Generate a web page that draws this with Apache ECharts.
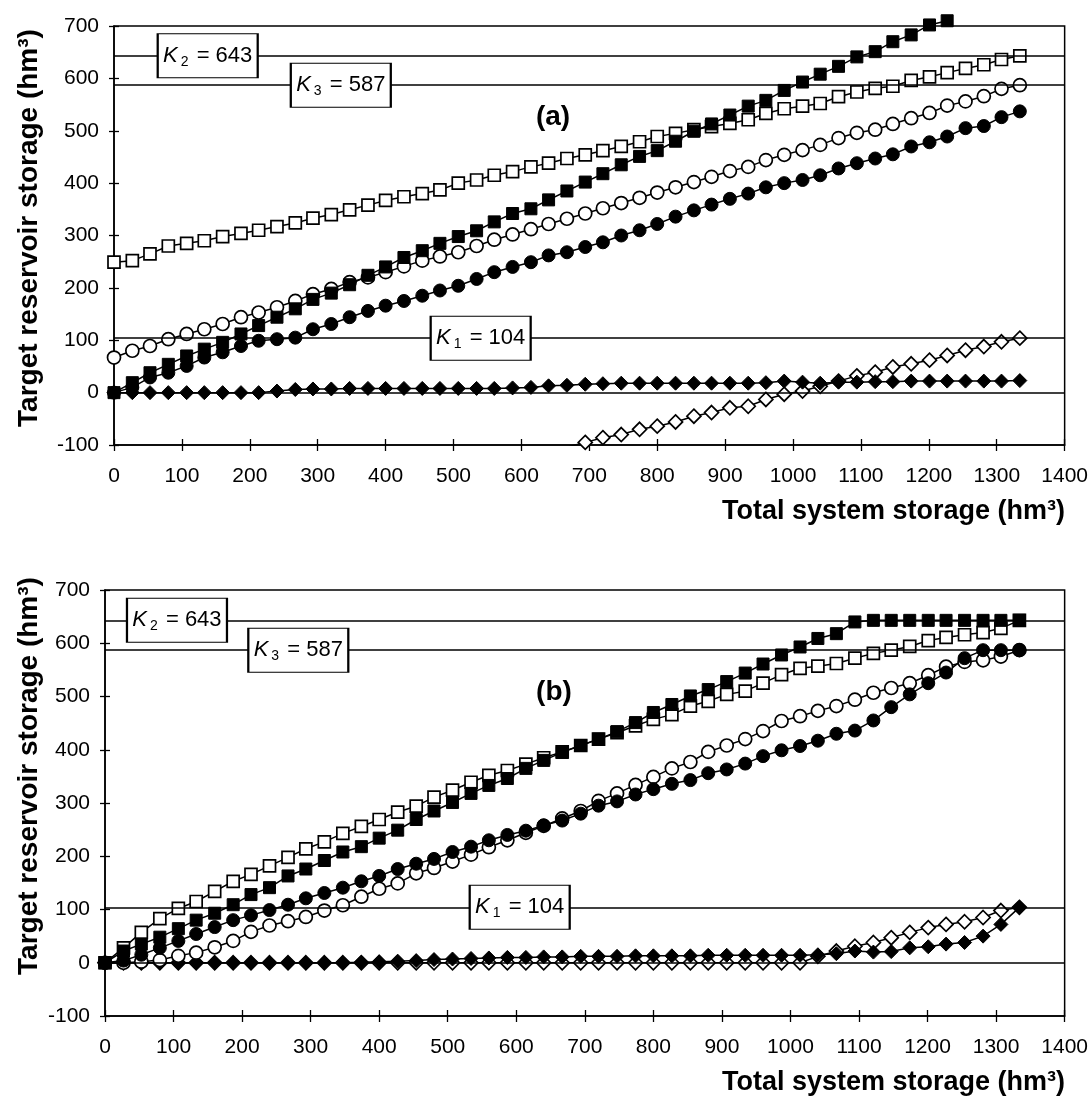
<!DOCTYPE html>
<html><head><meta charset="utf-8">
<script src="https://cdn.jsdelivr.net/npm/echarts/dist/echarts.min.js"></script>
<style>html,body{margin:0;padding:0;background:#fff}#c{width:1091px;height:1103px}</style>
</head><body><div id="c"></div>
<script>
// ---------- DATA ----------
const storageX = [0, 27, 53, 80, 107, 133, 160, 187, 213, 240, 267, 293, 320, 347, 374, 400, 427, 454, 480, 507, 534, 560, 587, 614, 640, 667, 694, 720, 747, 774, 800, 827, 854, 880, 907, 934, 960, 987, 1014, 1040, 1067, 1094, 1121, 1147, 1174, 1201, 1227, 1254, 1281, 1307, 1334];
const K1 = 104, K2 = 643, K3 = 587;

// Panel (a)
const aFilledSquare = [0, 19, 38, 54, 70, 83, 96, 112, 128, 144, 160, 178, 190, 206, 224, 240, 258, 271, 285, 298, 309, 326, 342, 351, 368, 385, 402, 418, 435, 451, 462, 480, 499, 513, 530, 547, 558, 577, 593, 608, 623, 641, 651, 670, 683, 702, 710];
const aOpenSquare = [249, 252, 265, 280, 285, 290, 298, 304, 310, 317, 324, 333, 340, 349, 358, 367, 374, 380, 387, 400, 406, 415, 422, 431, 438, 447, 454, 462, 470, 479, 489, 495, 502, 508, 514, 521, 533, 542, 547, 552, 565, 574, 581, 585, 596, 603, 611, 619, 626, 636, 643];
const aOpenCircle = [67, 80, 89, 102, 112, 121, 131, 144, 153, 163, 175, 188, 198, 211, 220, 230, 241, 252, 260, 268, 280, 292, 302, 312, 322, 332, 342, 352, 362, 372, 382, 392, 402, 412, 423, 431, 444, 454, 463, 473, 486, 496, 502, 513, 524, 534, 548, 556, 566, 580, 587];
const aFilledCircle = [0, 10, 29, 38, 51, 67, 77, 89, 99, 102, 105, 121, 131, 144, 156, 166, 175, 185, 195, 204, 217, 230, 240, 249, 262, 268, 278, 287, 300, 310, 322, 336, 348, 359, 370, 380, 392, 400, 406, 415, 428, 438, 447, 455, 470, 478, 489, 505, 509, 526, 537];
const aFilledDiamond = [0, 0, 0, 0, 0, 0, 0, 0, 0, 3, 6, 7, 7, 8, 8, 8, 8, 8, 8, 8, 8, 8, 9, 10, 13, 14, 16, 17, 18, 18, 18, 18, 18, 18, 18, 18, 19, 22, 20, 18, 20, 20, 21, 21, 22, 22, 22, 22, 22, 22, 23];
const aOpenDiamondStart = 23;
const aOpenDiamond = [-121, -112, -104, -95, -86, -80, -70, -64, -56, -45, -38, -29, -26, -13, -3, 3, 12, 22, 32, 39, 49, 55, 62, 71, 81, 88, 97, 104];

// Panel (b)
const bFilledSquare = [0, 22, 35, 48, 64, 80, 93, 109, 128, 141, 163, 176, 192, 208, 218, 234, 249, 269, 285, 301, 318, 333, 346, 365, 380, 395, 408, 420, 434, 451, 470, 485, 501, 513, 528, 544, 561, 578, 593, 609, 618, 640, 643, 643, 643, 643, 643, 643, 643, 643, 643];
const bOpenSquare = [0, 28, 57, 83, 102, 115, 134, 153, 166, 182, 198, 214, 227, 243, 256, 269, 283, 294, 311, 324, 339, 352, 361, 373, 385, 396, 408, 420, 432, 445, 457, 466, 482, 491, 504, 510, 525, 541, 553, 557, 562, 572, 581, 587, 594, 605, 611, 616, 620, 628, 643];
const bOpenCircle = [0, 0, 2, 5, 13, 19, 29, 41, 58, 70, 78, 86, 98, 108, 124, 139, 149, 168, 178, 190, 203, 217, 230, 244, 257, 271, 285, 304, 318, 334, 349, 365, 377, 396, 408, 420, 435, 454, 463, 473, 482, 494, 507, 516, 525, 540, 556, 565, 568, 575, 587];
const bFilledCircle = [0, 4, 15, 28, 41, 54, 67, 80, 89, 99, 109, 121, 131, 141, 153, 163, 176, 186, 195, 208, 218, 230, 240, 248, 258, 267, 280, 295, 303, 316, 326, 336, 343, 356, 363, 374, 388, 399, 407, 417, 430, 436, 455, 480, 504, 525, 545, 572, 587, 587, 587];
const bFilledDiamond = [0, 0, 0, 0, 0, 0, 0, 0, 0, 0, 0, 0, 0, 0, 1, 2, 3, 4, 6, 7, 8, 9, 10, 10, 11, 11, 12, 12, 12, 13, 13, 13, 13, 14, 14, 14, 14, 14, 14, 15, 17, 22, 20, 21, 28, 30, 35, 38, 50, 72, 104];
const bOpenDiamond = [0, 0, 0, 0, 0, 0, 0, 0, 0, 0, 0, 0, 0, 0, 0, 0, 0, 0, 0, 0, 0, 0, 0, 0, 0, 0, 0, 0, 0, 0, 0, 0, 0, 0, 0, 0, 0, 0, 0, 12, 22, 31, 38, 47, 57, 66, 72, 77, 85, 98, 104];

// ---------- LAYOUT / STYLE ----------
const FONT = '"Liberation Sans", Arial, Helvetica, sans-serif';
const GRIDS = [
  {left: 114, top: 26, width: 955, height: 419},
  {left: 105, top: 590, width: 963, height: 426}
];
const KLABEL_X = [[540, 138, 334], [605, 105, 282]]; // x-position (data units) of K1,K2,K3 boxes

function pts(ys, start) { return ys.map((v, i) => [storageX[i + start], v]); }

function mk(gi, ys, start, symbol, size, filled, extra) {
  return Object.assign({
    type: 'line', xAxisIndex: gi, yAxisIndex: gi,
    data: pts(ys, start),
    symbol: symbol, symbolSize: size, showSymbol: true, showAllSymbol: true,
    lineStyle: {color: '#000', width: 1.5},
    itemStyle: filled ? {color: '#000', borderColor: '#000', borderWidth: 1}
                      : {color: '#fff', borderColor: '#000', borderWidth: 1.7},
    emphasis: {disabled: true},
    animation: false, silent: true, clip: true, z: 3
  }, extra || {});
}

function refLines(gi) {
  return {
    type: 'line', xAxisIndex: gi, yAxisIndex: gi, data: [], silent: true, z: 1, animation: false,
    markLine: {
      silent: true, animation: false, symbol: ['none', 'none'], label: {show: false},
      lineStyle: {color: '#000', width: 1.6, type: 'solid'},
      emphasis: {disabled: true},
      data: [{yAxis: 0}, {yAxis: K1}, {yAxis: K2}, {yAxis: K3}]
    }
  };
}

function kBoxes(gi) {
  const lx = KLABEL_X[gi];
  return {
    type: 'line', xAxisIndex: gi, yAxisIndex: gi, data: [], silent: true, z: 20, animation: false,
    markPoint: {
      silent: true, animation: false, symbol: 'rect', symbolSize: [100, 44],
      itemStyle: {color: '#fff', borderColor: '#000', borderWidth: 1.5},
      emphasis: {disabled: true},
      label: {
        show: true, position: 'inside', color: '#000',
        formatter: p => '{k|K}{s|' + p.name + '}{t| = ' + p.value + '}',
        rich: {
          k: {fontFamily: FONT, fontSize: 22, fontStyle: 'italic', color: '#000'},
          s: {fontFamily: FONT, fontSize: 14, color: '#000', padding: [12, 2, 0, 3]},
          t: {fontFamily: FONT, fontSize: 22, color: '#000'}
        }
      },
      data: [
        {name: '1', coord: [lx[0], K1], value: K1},
        {name: '2', coord: [lx[1], K2], value: K2},
        {name: '3', coord: [lx[2], K3], value: K3}
      ]
    }
  };
}

const plainNum = v => String(v);

function xAx(gi, inner) {
  return {
    type: 'value', gridIndex: gi, min: 0, max: 1400, interval: 100, position: 'bottom',
    axisLine: {show: !inner, onZero: false, lineStyle: {color: '#000', width: 1.5}},
    axisTick: {show: true, inside: inner, length: 6, lineStyle: {color: '#000', width: 1.3}},
    axisLabel: {show: !inner, margin: 21, fontSize: 21, fontFamily: FONT, color: '#000', formatter: plainNum, showMaxLabel: true, showMinLabel: true},
    splitLine: {show: false}
  };
}
function yAx(gi, inner) {
  return {
    type: 'value', gridIndex: gi, min: -100, max: 700, interval: 100, position: 'left',
    axisLine: {show: !inner, onZero: false, lineStyle: {color: '#000', width: 1.5}},
    axisTick: {show: true, inside: inner, length: 5, lineStyle: {color: '#000', width: 1.3}},
    axisLabel: {show: !inner, margin: 15, fontSize: 21, fontFamily: FONT, color: '#000', formatter: plainNum},
    splitLine: {show: false}
  };
}

function panelSeries(gi, d) {
  return [
    refLines(gi),
    mk(gi, d.od, d.odStart, 'diamond', 14, false),
    mk(gi, d.fd, 0, 'diamond', 14, true),
    mk(gi, d.oc, 0, 'circle', 13, false),
    mk(gi, d.fc, 0, 'circle', 13, true),
    mk(gi, d.os, 0, 'rect', 12, false),
    mk(gi, d.fs, 0, 'rect', 12, true, {clip: false}),
    kBoxes(gi)
  ];
}

const series = [].concat(
  panelSeries(0, {od: aOpenDiamond, odStart: aOpenDiamondStart, fd: aFilledDiamond, oc: aOpenCircle, fc: aFilledCircle, os: aOpenSquare, fs: aFilledSquare}),
  panelSeries(1, {od: bOpenDiamond, odStart: 0, fd: bFilledDiamond, oc: bOpenCircle, fc: bFilledCircle, os: bOpenSquare, fs: bFilledSquare})
);

const yTitle = 'Target reservoir storage (hm³)';
const xTitle = 'Total system storage (hm³)';
function txt(x, y, text, font, align, rot) {
  return {type: 'text', x: x, y: y, rotation: rot || 0, z: 50, silent: true,
    style: {text: text, font: font, fill: '#000', textAlign: align || 'center', textVerticalAlign: 'middle'}};
}

const option = {
  backgroundColor: '#fff',
  animation: false,
  grid: GRIDS.map(g => Object.assign({show: true, borderColor: '#000', borderWidth: 1.5, backgroundColor: 'transparent', containLabel: false}, g)),
  xAxis: [xAx(0, false), xAx(1, false), xAx(0, true), xAx(1, true)],
  yAxis: [yAx(0, false), yAx(1, false), yAx(0, true), yAx(1, true)],
  series: series,
  graphic: [
    txt(553, 117, '(a)', 'bold 28px ' + FONT),
    txt(554, 692, '(b)', 'bold 28px ' + FONT),
    txt(29, 228, yTitle, 'bold 28px ' + FONT, 'center', Math.PI / 2),
    txt(29, 776, yTitle, 'bold 28px ' + FONT, 'center', Math.PI / 2),
    txt(1065, 512, xTitle, 'bold 27px ' + FONT, 'right'),
    txt(1065, 1083, xTitle, 'bold 27px ' + FONT, 'right')
  ]
};

const chart = echarts.init(document.getElementById('c'), null, {renderer: 'canvas'});
chart.setOption(option);
</script>
</body></html>
